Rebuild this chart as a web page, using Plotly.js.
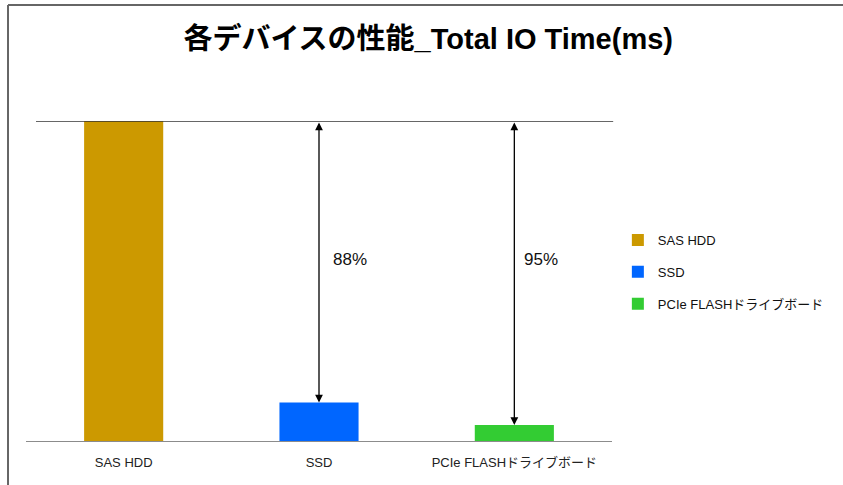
<!DOCTYPE html>
<html>
<head>
<meta charset="utf-8">
<script src="https://cdn.plot.ly/plotly-3.0.1.min.js"></script>
<style>
  html, body { margin: 0; padding: 0; background: #fff; }
  #chart { width: 843px; height: 485px; }
</style>
</head>
<body>
<div id="chart"></div>
<script>
// ---- data ----
const categories = ["SAS HDD", "SSD", "PCIe FLASHドライブボード"];
const values = [100, 12, 5];            // relative Total IO Time (SAS HDD = 100)
const colors = ["#CC9900", "#0066FF", "#33CC33"];
const titleText = "各デバイスの性能_Total IO Time(ms)";

const latin = "Liberation Sans, Noto Sans CJK JP, sans-serif";
const narrow = "Liberation Sans Narrow, Liberation Sans, Noto Sans CJK JP, sans-serif";

const traces = categories.map((c, i) => ({
  type: "bar",
  name: c,
  x: [c],
  y: [values[i]],
  width: 0.405,
  marker: { color: colors[i], line: { width: 0 } },
  legendgroup: "g" + i,
  hoverinfo: "x+y"
}));

const refVal = values[0];
const annotations = [];
const labelShift = [0, 12, 8];
for (let i = 1; i < categories.length; i++) {
  annotations.push({
    x: categories[i], y: values[i], xref: "x", yref: "y",
    ax: categories[i], ay: refVal, axref: "x", ayref: "y",
    text: "", showarrow: true, arrowhead: 2, arrowsize: 1.2, arrowwidth: 1.3,
    arrowside: "end+start", arrowcolor: "#000", standoff: 0, startstandoff: 0
  });
  annotations.push({
    x: categories[i], y: 0.566, xref: "x", yref: "paper",
    xanchor: "left", yanchor: "middle", xshift: labelShift[i],
    text: Math.round((1 - values[i] / refVal) * 100) + "%",
    showarrow: false,
    font: { family: latin, size: 17, color: "#111" }
  });
}

const layout = {
  width: 843, height: 485,
  margin: { l: 26, r: 231, t: 121, b: 44, pad: 0 },
  paper_bgcolor: "#ffffff", plot_bgcolor: "#ffffff",
  barmode: "overlay",
  title: {
    text: "<b>" + titleText + "</b>",
    x: 0.508, xref: "container", xanchor: "center",
    y: 0.92, yref: "container", yanchor: "middle",
    font: { family: narrow, size: 29, color: "#000" }
  },
  xaxis: {
    type: "category",
    categoryorder: "array", categoryarray: categories,
    showline: true, linecolor: "#8c8c8c", linewidth: 1,
    ticks: "", showgrid: false, zeroline: false,
    ticklabelstandoff: 9,
    tickfont: { family: latin, size: 13, color: "#222" }
  },
  yaxis: {
    range: [0, Math.max(...values)],
    showticklabels: false, showgrid: false, zeroline: false, showline: false, ticks: ""
  },
  showlegend: true,
  legend: {
    x: 1.01, xanchor: "left", xref: "paper",
    y: 0.675, yanchor: "top",
    tracegroupgap: 12,
    itemwidth: 30,
    font: { family: latin, size: 13, color: "#111" },
    bgcolor: "rgba(0,0,0,0)"
  },
  shapes: [
    // top reference line at SAS HDD level
    { type: "line", xref: "paper", yref: "y", x0: 0.017, x1: 1.002, y0: refVal, y1: refVal,
      line: { color: "#333", width: 1.3 } },
    // chart frame (left and top)
    { type: "line", xref: "paper", yref: "paper", x0: -0.0307, x1: -0.0307, y0: 1.3625, y1: -0.2,
      line: { color: "#666", width: 2 } },
    { type: "line", xref: "paper", yref: "paper", x0: -0.0307, x1: 1.45, y0: 1.3625, y1: 1.3625,
      line: { color: "#666", width: 2 } }
  ],
  annotations: annotations
};

Plotly.newPlot("chart", traces, layout, { displayModeBar: false, staticPlot: true });
</script>
</body>
</html>
